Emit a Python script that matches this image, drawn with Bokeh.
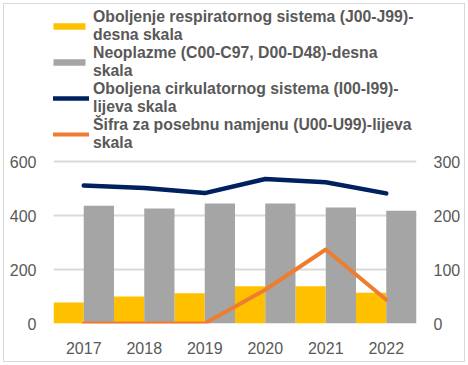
from bokeh.plotting import figure
from bokeh.models import (ColumnDataSource, Range1d, LinearAxis, Legend, LegendItem,
                          FixedTicker, FactorRange)
from bokeh.transform import dodge
from bokeh.embed import file_html
from bokeh.resources import INLINE

years = ["2017", "2018", "2019", "2020", "2021", "2022"]
respiratory = [39, 50, 56, 69, 69, 57]          # right axis
neoplasms = [218, 213, 222, 222, 215, 209]      # right axis
circulatory = [511, 502, 483, 535, 523, 482]    # left axis
special = [0, 0, 0, 125, 274, 88]               # left axis

labels = [
    "Oboljenje respiratornog sistema (J00-J99)-\ndesna skala",
    "Neoplazme (C00-C97, D00-D48)-desna\nskala",
    "Oboljena cirkulatornog sistema (I00-I99)-\nlijeva skala",
    "Šifra za posebnu namjenu (U00-U99)-lijeva\nskala",
]
left_ticks = [0, 200, 400, 600]
right_ticks = [0, 100, 200, 300]

src = ColumnDataSource(dict(year=years, resp=respiratory, neo=neoplasms,
                            circ=circulatory, spec=special))

FONT = "Liberation Sans"
TXT = "#595959"

# frame extends to the top of the canvas so the legend (inside the frame) stays visible;
# the axes only label 0-600 / 0-300, the upper part holds the legend
FRAME_H = 319
PX_PER_600 = 162
LEFT_MAX = 600 * FRAME_H / PX_PER_600
RIGHT_MAX = LEFT_MAX / 2

p = figure(x_range=FactorRange(*years), y_range=Range1d(0, LEFT_MAX),
           width=460, height=357, output_backend="svg", toolbar_location=None,
           min_border_left=49, min_border_right=48, min_border_top=0,
           min_border_bottom=38)
p.styles = {"margin": "4px 0px 0px 4px", "outline": "1px solid #D9D9D9"}
p.outline_line_color = None
p.extra_y_ranges = {"right": Range1d(0, RIGHT_MAX)}

b1 = p.vbar(x=dodge("year", -0.25, range=p.x_range), top="resp", width=0.5,
            source=src, y_range_name="right", color="#FFC000", line_color=None)
b2 = p.vbar(x=dodge("year", 0.25, range=p.x_range), top="neo", width=0.5,
            source=src, y_range_name="right", color="#A5A5A5", line_color=None)
l1 = p.line(x="year", y="circ", source=src, line_color="#002060", line_width=4.5,
            line_cap="round", line_join="round")
l2 = p.line(x="year", y="spec", source=src, line_color="#ED7D31", line_width=4,
            line_cap="round", line_join="round")

p.yaxis.ticker = FixedTicker(ticks=left_ticks)
ra = LinearAxis(y_range_name="right", ticker=FixedTicker(ticks=right_ticks))
p.add_layout(ra, "right")

for ax in [p.xaxis[0], p.yaxis[0], ra]:
    ax.axis_line_color = None
    ax.major_tick_line_color = None
    ax.minor_tick_line_color = None
    ax.major_tick_out = 0
    ax.major_tick_in = 0
    ax.minor_tick_out = 0
    ax.minor_tick_in = 0
    ax.major_label_text_font = FONT
    ax.major_label_text_font_size = "16px"
    ax.major_label_text_color = TXT
p.yaxis[0].major_label_standoff = 17
ra.major_label_standoff = 17
p.xaxis[0].major_label_standoff = 18

p.xgrid.grid_line_color = None
p.ygrid.grid_line_color = "#D9D9D9"
p.ygrid.grid_line_width = 2
p.ygrid.ticker = FixedTicker(ticks=left_ticks)

legend = Legend(items=[LegendItem(label=labels[0], renderers=[b1]),
                       LegendItem(label=labels[1], renderers=[b2]),
                       LegendItem(label=labels[2], renderers=[l1]),
                       LegendItem(label=labels[3], renderers=[l2])],
                location=(-4, 171))
legend.background_fill_alpha = 0
legend.border_line_color = None
legend.padding = 0
legend.margin = 0
legend.spacing = -2
legend.glyph_width = 40
legend.glyph_height = 8
legend.label_standoff = 4
legend.label_text_font = FONT
legend.label_text_font_size = "15.8px"
legend.label_text_font_style = "bold"
legend.label_text_color = TXT
legend.label_text_line_height = 1.1
p.add_layout(legend, "center")

open("out.html", "w").write(file_html(p, INLINE))
